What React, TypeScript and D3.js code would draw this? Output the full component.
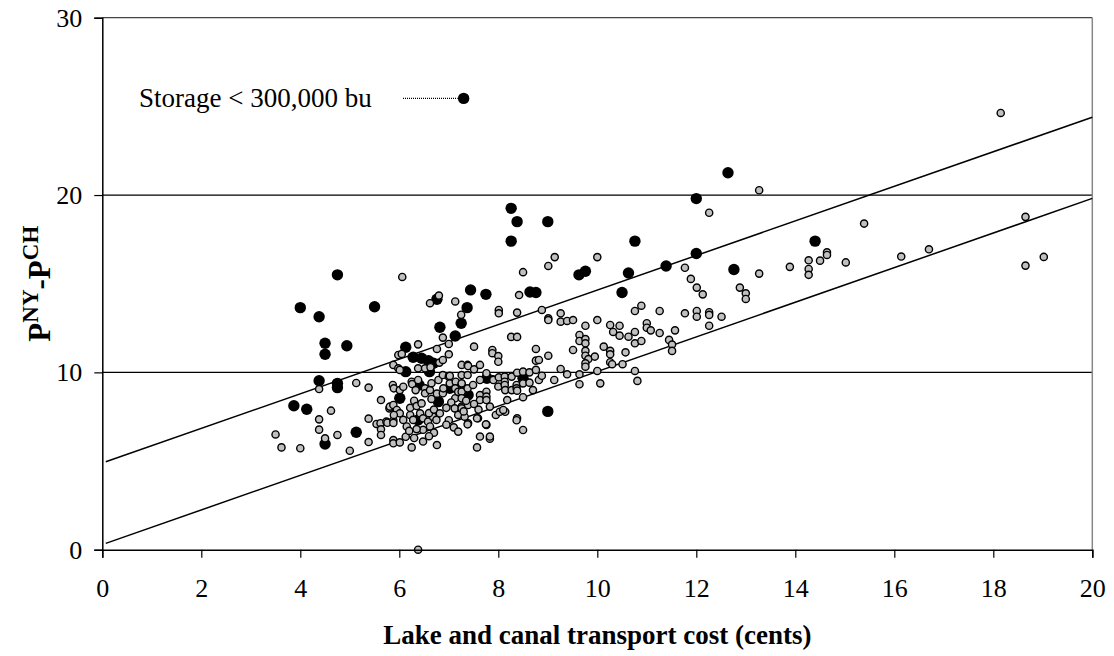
import React, { useEffect, useRef } from "react";
import * as d3 from "d3";

const width = 1114;
const height = 656;

const xTicks = [0, 2, 4, 6, 8, 10, 12, 14, 16, 18, 20];
const yTicks = [0, 10, 20, 30];

// storage < 300,000 bu (black)
const smallStorage: [number, number][] = [
  [4.0, 13.65], [4.38, 13.14], [4.75, 15.5], [5.5, 13.7], [4.5, 11.64], [4.5, 11.02],
  [4.94, 11.5], [4.38, 9.53], [4.75, 9.38], [4.75, 9.14], [3.87, 8.12], [4.13, 7.92],
  [4.5, 5.96], [5.13, 6.62], [6.13, 11.42], [6.28, 10.85], [6.45, 10.8], [6.59, 10.66],
  [6.69, 10.51], [6.13, 10.04], [6.61, 10.04], [6.4, 9.29], [6.01, 8.54], [6.79, 8.35],
  [6.38, 7.32], [7.02, 9.1], [7.39, 8.72], [7.77, 9.67], [8.5, 9.67], [6.82, 12.54],
  [7.13, 12.05], [7.25, 12.77], [7.37, 13.65], [7.44, 14.65], [7.75, 14.4], [6.76, 14.12],
  [8.26, 19.25], [8.38, 18.5], [9.0, 18.5], [8.26, 17.4], [10.76, 17.4], [12.0, 19.8],
  [12.0, 16.7], [12.64, 21.26], [14.4, 17.4], [12.76, 15.8], [11.39, 16.0], [10.63, 15.6],
  [10.5, 14.5], [9.63, 15.5], [9.76, 15.7], [8.64, 14.53], [8.76, 14.5], [9.0, 7.8],
];

// all other observations (grey)
const otherStorage: [number, number][] = [
  [3.5, 6.5], [3.62, 5.77], [4.0, 5.72], [4.38, 7.35], [4.38, 6.77], [4.38, 9.06],
  [4.5, 6.28], [4.62, 7.84], [4.75, 6.47], [5.0, 5.58], [5.13, 9.4], [5.38, 9.14],
  [5.38, 7.39], [5.38, 6.07], [5.54, 7.09], [5.62, 7.13], [5.63, 8.44], [5.63, 6.79],
  [5.63, 6.47], [5.74, 7.22], [5.76, 7.16], [5.8, 7.97],
  [5.87, 9.29], [5.88, 10.42], [5.98, 10.23], [5.98, 10.98], [6.05, 11.04], [5.89, 9.1],
  [6.01, 9.0], [6.08, 9.19], [5.92, 7.69], [5.88, 7.3], [5.88, 7.15], [5.88, 6.18],
  [5.88, 6.0], [6.01, 6.05], [6.13, 6.37], [6.25, 5.77], [6.06, 15.38], [6.01, 10.14],
  [5.81, 8.07], [5.88, 8.16], [5.95, 7.88], [6.01, 7.69], [5.89, 7.6], [6.08, 7.32],
  [6.22, 7.6], [6.15, 6.95], [6.28, 7.32], [6.2, 6.7], [6.22, 8.0],
  [6.38, 11.58], [6.25, 9.47], [6.26, 9.34], [6.33, 9.0], [6.38, 9.57], [6.38, 10.23],
  [6.52, 10.23], [6.63, 10.29], [6.52, 9.1], [6.52, 8.82], [6.62, 9.0], [6.65, 9.39],
  [6.3, 8.4], [6.35, 8.1], [6.42, 7.69], [6.48, 7.41], [6.58, 7.22], [6.68, 7.5],
  [6.75, 7.32], [6.62, 6.95], [6.48, 6.76], [6.35, 6.8], [6.6, 7.7], [6.65, 8.5],
  [6.45, 8.25], [6.7, 6.6], [6.6, 6.4], [6.48, 6.1], [6.3, 6.3], [6.7, 7.9],
  [6.38, 0], [6.76, 5.9], [6.76, 11.32], [6.81, 10.55], [6.88, 10.7], [6.62, 13.9],
  [6.8, 14.33], [6.76, 8.8], [6.79, 9.57], [6.82, 7.69],
  [6.88, 11.96], [7.0, 11.6], [7.0, 11.02], [6.88, 9.85], [7.0, 9.76], [6.88, 8.82],
  [6.89, 9.1], [7.02, 9.38], [7.14, 9.47], [7.02, 9.8], [7.13, 9.1], [7.13, 8.54],
  [7.26, 9.34], [7.26, 8.07], [7.19, 8.9], [7.05, 8.3], [6.95, 8.0], [7.12, 7.97],
  [7.26, 7.97], [7.19, 7.6], [7.32, 7.5], [7.39, 7.13], [7.0, 7.3], [6.95, 7.05],
  [7.1, 6.9], [7.19, 6.66], [7.13, 14.0], [7.25, 13.25], [7.26, 10.42], [7.38, 10.42],
  [7.39, 10.36], [7.26, 9.85], [7.38, 9.85], [7.26, 9.38], [7.26, 8.91], [7.26, 8.54],
  [7.38, 9.1], [7.39, 8.16], [7.38, 7.07], [7.3, 7.8], [7.35, 8.4],
  [7.51, 11.45], [7.51, 10.17], [7.63, 10.42], [7.49, 9.29], [7.63, 9.57], [7.63, 8.72],
  [7.63, 8.44], [7.51, 8.22], [7.59, 7.41], [7.57, 7.41], [7.63, 6.38], [7.57, 5.77],
  [7.76, 9.95], [7.76, 8.91], [7.76, 8.63], [7.76, 8.44], [7.76, 7.04], [7.75, 7.07],
  [7.83, 6.26], [7.83, 6.38], [7.88, 11.26], [7.88, 11.08], [7.89, 9.61], [7.83, 8.07],
  [7.9, 9.57], [7.6, 7.9], [7.95, 7.6],
  [8.0, 10.92], [8.0, 10.6], [8.01, 13.52], [8.01, 13.33], [8.01, 9.72], [8.0, 9.2],
  [8.13, 9.76], [8.13, 9.47], [8.13, 9.29], [8.14, 9.0], [8.18, 8.44], [8.14, 7.78],
  [8.03, 7.78], [8.1, 7.88], [8.26, 12.0], [8.38, 12.0], [8.27, 9.76], [8.27, 9.0],
  [8.38, 9.98], [8.37, 9.29], [8.37, 9.1], [8.38, 8.97], [8.38, 7.41], [8.37, 7.3],
  [8.42, 14.36], [8.38, 13.37], [8.5, 15.65], [8.5, 10.04], [8.5, 9.38], [8.5, 8.6],
  [8.5, 6.75], [8.63, 10.0], [8.63, 9.42], [8.76, 11.32], [8.76, 10.66], [8.76, 10.14],
  [8.82, 9.57], [8.88, 9.81], [8.82, 10.7], [8.88, 13.52], [8.7, 9.0],
  [9.01, 16.0], [9.14, 16.5], [9.01, 13.05], [9.01, 12.95], [9.26, 13.33], [9.26, 12.86],
  [9.39, 12.9], [9.51, 12.95], [9.01, 10.94], [9.26, 10.19], [9.39, 9.89], [9.13, 9.57],
  [9.51, 11.26], [9.64, 12.11], [9.64, 11.77], [9.76, 11.88], [9.76, 11.64], [9.76, 12.63],
  [9.64, 9.89], [9.64, 9.33], [9.76, 11.21], [9.76, 10.94], [9.82, 10.75], [9.76, 10.51],
  [9.76, 10.32], [9.95, 10.89], [10.0, 16.5], [10.0, 12.95], [10.0, 10.08],
  [10.06, 9.38], [10.13, 11.45], [10.26, 11.21], [10.26, 11.02], [10.26, 10.57], [10.3, 10.46],
  [10.26, 12.67], [10.32, 12.28], [10.45, 12.63], [10.45, 12.07], [10.51, 10.46], [10.57, 11.13],
  [10.63, 12.01], [10.76, 12.28], [10.76, 11.64], [10.76, 13.46], [10.76, 10.08], [10.81, 9.52],
  [10.89, 13.76], [10.89, 11.77],
  [11.0, 12.77], [11.0, 12.52], [11.08, 12.37], [11.26, 13.46], [11.26, 12.22], [11.45, 11.83],
  [11.51, 11.57], [11.51, 11.21], [11.57, 12.37], [11.77, 15.9], [11.77, 13.33], [11.89, 15.27],
  [12.01, 14.78], [12.13, 14.4], [12.01, 13.46], [12.01, 13.14], [12.26, 13.39], [12.26, 13.24],
  [12.26, 12.63], [12.26, 19.0], [12.51, 13.14], [12.88, 14.78], [13.0, 14.46], [13.0, 14.14],
  [13.27, 15.57], [13.27, 20.27], [13.89, 15.95], [14.27, 16.32], [14.27, 15.83], [14.27, 15.5],
  [14.5, 16.3], [14.64, 16.77], [14.64, 16.62], [15.02, 16.2], [15.39, 18.39], [16.14, 16.53],
  [16.7, 16.94], [18.15, 24.63], [18.65, 18.77], [18.65, 16.02], [19.02, 16.51],
];

// two fitted lines
const fitLines = [
  { intercept: 4.89, slope: 0.975 },
  { intercept: 0.29, slope: 0.976 },
];
const fitFrom = 0.07;
const fitTo = 20;

const legendLabel = "Storage < 300,000 bu";
const legendPoint: [number, number] = [7.3, 25.45];

const font = "'Liberation Serif', 'Times New Roman', serif";

const App = () => {
  const chartRef = useRef<SVGSVGElement>(null);

  useEffect(() => {
    const svg = d3.select(chartRef.current);
    svg.selectAll("*").remove();

    const x = d3.scaleLinear().domain([0, 20]).range([102.3, 1092.3]);
    const y = d3.scaleLinear().domain([0, 30]).range([549.7, 17.7]);

    // gridlines at 10 and 20
    svg
      .selectAll("line.grid")
      .data(yTicks.filter((d) => d > 0 && d < 30))
      .enter()
      .append("line")
      .attr("class", "grid")
      .attr("x1", x(0))
      .attr("x2", x(20))
      .attr("y1", (d) => y(d))
      .attr("y2", (d) => y(d))
      .attr("stroke", "#000")
      .attr("stroke-width", 1.2);

    // plot border top / right
    svg
      .append("line")
      .attr("x1", x(0))
      .attr("x2", x(20))
      .attr("y1", y(30))
      .attr("y2", y(30))
      .attr("stroke", "#444")
      .attr("stroke-width", 1.2);
    svg
      .append("line")
      .attr("x1", x(20))
      .attr("x2", x(20))
      .attr("y1", y(30))
      .attr("y2", y(0))
      .attr("stroke", "#888")
      .attr("stroke-width", 1.5);

    // fitted lines
    fitLines.forEach((f) => {
      svg
        .append("line")
        .attr("x1", x(fitFrom))
        .attr("y1", y(f.intercept + f.slope * fitFrom))
        .attr("x2", x(fitTo))
        .attr("y2", y(f.intercept + f.slope * fitTo))
        .attr("stroke", "#000")
        .attr("stroke-width", 1.5);
    });

    // points
    svg
      .append("g")
      .selectAll("circle")
      .data(smallStorage)
      .enter()
      .append("circle")
      .attr("cx", (d) => x(d[0]))
      .attr("cy", (d) => y(d[1]))
      .attr("r", 5.7)
      .attr("fill", "#000");

    svg
      .append("g")
      .selectAll("circle")
      .data(otherStorage)
      .enter()
      .append("circle")
      .attr("cx", (d) => x(d[0]))
      .attr("cy", (d) => y(d[1]))
      .attr("r", 3.6)
      .attr("fill", "#c0c0c0")
      .attr("stroke", "#000")
      .attr("stroke-width", 1.4);

    // axes
    const xAxis = svg
      .append("g")
      .attr("transform", `translate(0,${y(0)})`)
      .call(d3.axisBottom(x).tickValues(xTicks).tickSize(8).tickPadding(21).tickFormat(d3.format("d")));
    xAxis.select(".domain").attr("stroke", "#000").attr("stroke-width", 1.5);
    xAxis.selectAll(".tick line").attr("stroke", "#000").attr("stroke-width", 1.2);
    xAxis
      .selectAll(".tick text")
      .attr("font-family", font)
      .attr("font-size", 26)
      .attr("fill", "#000");

    const yAxis = svg
      .append("g")
      .attr("transform", `translate(${x(0)},0)`)
      .call(d3.axisLeft(y).tickValues(yTicks).tickSize(8).tickPadding(12).tickFormat(d3.format("d")));
    yAxis.select(".domain").attr("stroke", "#000").attr("stroke-width", 1.5);
    yAxis.selectAll(".tick line").attr("stroke", "#000").attr("stroke-width", 1.2);
    yAxis
      .selectAll(".tick text")
      .attr("font-family", font)
      .attr("font-size", 26)
      .attr("fill", "#000");

    // legend
    svg
      .append("text")
      .attr("x", 139)
      .attr("y", y(legendPoint[1]) + 9)
      .attr("font-family", font)
      .attr("font-size", 27)
      .text(legendLabel);
    svg
      .append("line")
      .attr("x1", 403)
      .attr("x2", x(legendPoint[0]) - 6)
      .attr("y1", y(legendPoint[1]))
      .attr("y2", y(legendPoint[1]))
      .attr("stroke", "#000")
      .attr("stroke-width", 1.2)
      .attr("stroke-dasharray", "1,1");
    svg
      .append("circle")
      .attr("cx", x(legendPoint[0]))
      .attr("cy", y(legendPoint[1]))
      .attr("r", 5.7)
      .attr("fill", "#000");

    // axis titles
    svg
      .append("text")
      .attr("x", (x(0) + x(20)) / 2)
      .attr("y", 644)
      .attr("text-anchor", "middle")
      .attr("font-family", font)
      .attr("font-size", 27)
      .attr("font-weight", "bold")
      .text("Lake and canal transport cost (cents)");

    const yt = svg
      .append("text")
      .attr("transform", `translate(50,${(y(0) + y(30)) / 2}) rotate(-90)`)
      .attr("text-anchor", "middle")
      .attr("font-family", font)
      .attr("font-size", 31)
      .attr("font-weight", "bold");
    yt.append("tspan").text("P");
    yt.append("tspan").attr("font-size", 23).attr("dy", -12).text("NY");
    yt.append("tspan").attr("dy", 12).text("-P");
    yt.append("tspan").attr("font-size", 23).attr("dy", -12).text("CH");
  }, []);

  return (
    <svg
      ref={chartRef}
      width={width}
      height={height}
      style={{ position: "absolute", left: 0, top: 0, background: "#fff" }}
    />
  );
};

export default App;
